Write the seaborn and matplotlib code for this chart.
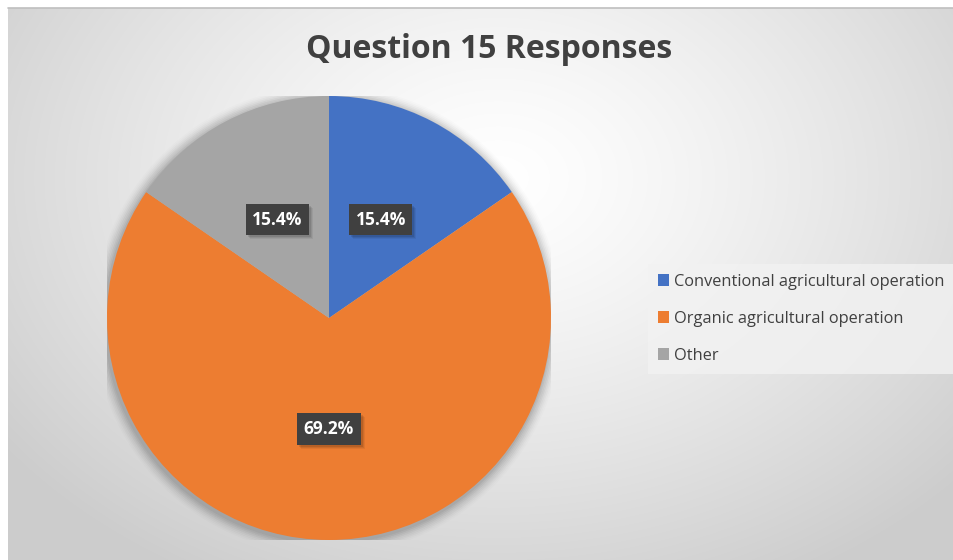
import numpy as np
import matplotlib
matplotlib.use("Agg")
import matplotlib.pyplot as plt
import matplotlib.patches as mpatches
import seaborn as sns

categories = ["Conventional agricultural operation", "Organic agricultural operation", "Other"]
values = [15.4, 69.2, 15.4]
pct_labels = ["15.4%", "69.2%", "15.4%"]
title = "Question 15 Responses"

sns.set_theme(style="white")
plt.rcParams['font.family'] = ['Open Sans', 'DejaVu Sans']
colors = sns.color_palette(["#4472C4", "#ED7D31", "#A5A5A5"])

W, H = 954, 560
fig = plt.figure(figsize=(W / 100, H / 100), dpi=100)
fig.patch.set_facecolor("white")

# background radial gradient
bg = fig.add_axes([8 / W, 0, (W - 8) / W, (H - 8) / H])
bg.set_axis_off()
yy, xx = np.mgrid[0:552, 0:946]
cx, cy = 490, 170
d = np.sqrt(((xx - cx) / 620.0) ** 2 + ((yy - cy) / 460.0) ** 2)
val = 1.0 - 0.20 * np.clip(d, 0, 1) ** 1.3
img = np.dstack([val, val, val])
bg.imshow(img, aspect="auto", extent=[0, 1, 0, 1], origin="upper")
bg.set_xlim(0, 1); bg.set_ylim(0, 1)
bg.plot([0, 1], [1, 1], color="#bfbfbf", lw=1.2, transform=bg.transAxes, clip_on=False)

# pie axes
cxp, cyp, r = 329, 318, 222
ax = fig.add_axes([(cxp - r) / W, (H - cyp - r) / H, 2 * r / W, 2 * r / H])
ax.set_axis_off()

# soft shadow around pie
for i, a in enumerate(np.linspace(0.05, 0.012, 8)):
    ax.add_patch(mpatches.Circle((-0.005, -0.01), 1.0 + 0.007 * (i + 1), color="black", alpha=a, lw=0, zorder=0))

wedges, _ = ax.pie(values, colors=colors, startangle=90, counterclock=False,
                   radius=1.0, wedgeprops=dict(linewidth=0), center=(0, 0))
for w in wedges:
    w.set_zorder(1)
ax.set_xlim(-1, 1); ax.set_ylim(-1, 1)

cum = np.cumsum([0] + values)
total = sum(values)
texts = []
for i, lab in enumerate(pct_labels):
    mid = 90 - (cum[i] + values[i] / 2) / total * 360
    x = 0.5 * np.cos(np.radians(mid))
    y = 0.5 * np.sin(np.radians(mid))
    t = ax.text(x, y, lab, ha="center", va="center", fontsize=12.5, fontweight="bold", color="white",
                bbox=dict(boxstyle="square,pad=0.38", fc="#404040", ec="none"), zorder=4)
    texts.append(t)

fig.text(489 / W, 1 - 49 / H, title, ha="center", va="center", fontsize=23,
         fontweight="bold", color="#404040")

handles = [mpatches.Patch(facecolor=c, edgecolor="none") for c in colors]
leg = fig.legend(handles, categories, loc="upper left", bbox_to_anchor=(648 / W, 1 - 264 / H),
                 frameon=True, fontsize=11.8, handlelength=0.7, handleheight=0.7, handletextpad=0.3,
                 labelspacing=1.28, borderpad=0.6, borderaxespad=0, labelcolor="#404040", fancybox=False)
leg.get_frame().set_facecolor("#f2f2f2")
leg.get_frame().set_alpha(0.8)
leg.get_frame().set_edgecolor("none")

# shadows behind label boxes
fig.canvas.draw()
for t in texts:
    bb = t.get_bbox_patch().get_window_extent()
    for k, a in enumerate([0.10, 0.08, 0.06]):
        off = 2 + k
        rect = mpatches.Rectangle((bb.x0 + off, bb.y0 - off), bb.width, bb.height,
                                  transform=None, fc="black", ec="none", alpha=a, zorder=3)
        ax.add_artist(rect)

fig.savefig("out.png", dpi=100)
